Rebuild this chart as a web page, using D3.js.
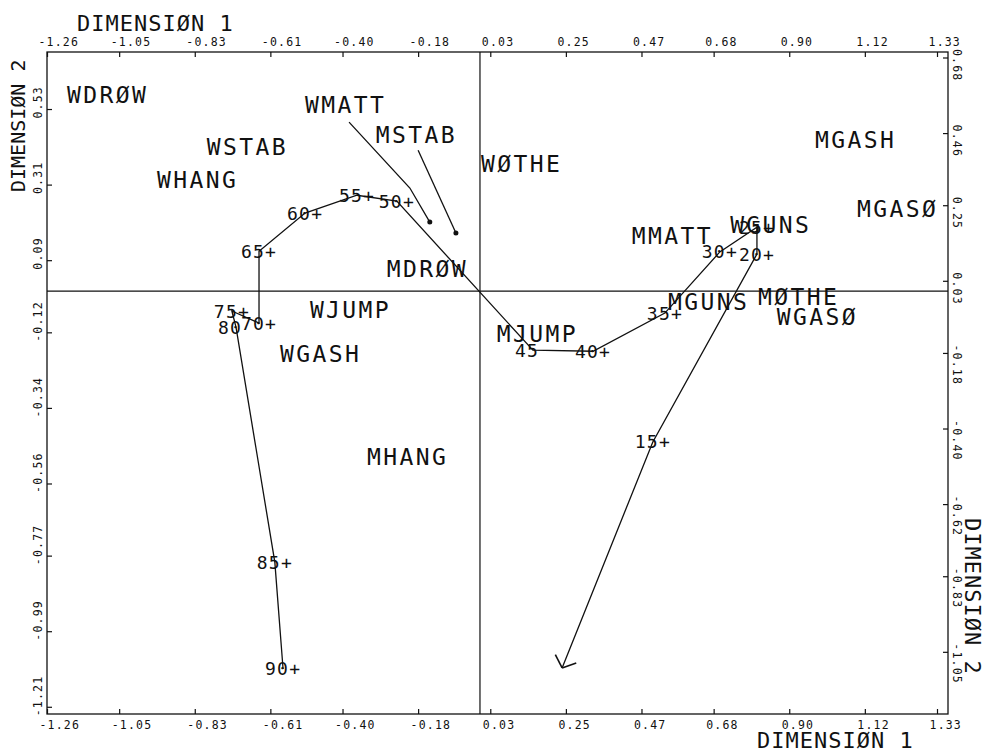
<!DOCTYPE html>
<html>
<head>
<meta charset="utf-8">
<script src="https://cdn.jsdelivr.net/npm/d3@7"></script>
<style>
  body { margin: 0; background: white; }
</style>
</head>
<body>
<script>
const FONT = '"DejaVu Sans Mono", monospace'
const INK = '#111'

// tick labels as printed on the plot
const X_TICKS = ['-1.26', '-1.05', '-0.83', '-0.61', '-0.40', '-0.18', '0.03', '0.25', '0.47', '0.68', '0.90', '1.12', '1.33']
const Y_TICKS_LEFT = ['-1.21', '-0.99', '-0.77', '-0.56', '-0.34', '-0.12', '0.09', '0.31', '0.53']
const Y_TICKS_RIGHT = ['-1.05', '-0.83', '-0.62', '-0.40', '-0.18', '0.03', '0.25', '0.46', '0.68']

// category points (label placed at the point)
const CATS = ['WDRØW', 'WMATT', 'MSTAB', 'WSTAB', 'WHANG', 'WØTHE', 'MGASH', 'MGASØ', 'MMATT',
  'WGUNS', 'MGUNS', 'MØTHE', 'WGASØ', 'MJUMP', 'MDRØW', 'WJUMP', 'WGASH', 'MHANG']
const CAT_X = [-1.202, -0.509, -0.303, -0.795, -0.940, 0.003, 0.975, 1.097, 0.442,
  0.728, 0.547, 0.809, 0.864, 0.049, -0.271, -0.495, -0.582, -0.329]
const CAT_Y = [0.547, 0.518, 0.431, 0.396, 0.300, 0.346, 0.416, 0.215, 0.137,
  0.169, -0.055, -0.041, -0.099, -0.148, 0.041, -0.079, -0.207, -0.506]

// age trajectory, last point is the arrow tip
const AGES = ['90+', '85+', '80', '75+', '70+', '65+', '60+', '55+', '50+', '45', '40+', '35+', '30+', '25+', '20+', '15+', '']
const AGE_X = [-0.573, -0.597, -0.710, -0.722, -0.643, -0.643, -0.509, -0.358, -0.242, 0.154, 0.329, 0.538, 0.698, 0.806, 0.806, 0.503, 0.239]
const AGE_Y = [-1.100, -0.789, -0.105, -0.058, -0.093, 0.116, 0.227, 0.279, 0.262, -0.172, -0.175, -0.064, 0.114, 0.186, 0.108, -0.439, -1.097]

// leader lines from two labels to their points
const WMATT_X = [-0.381, -0.204, -0.146]
const WMATT_Y = [0.492, 0.300, 0.201]
const MSTAB_X = [-0.180, -0.070]
const MSTAB_Y = [0.410, 0.169]

const width = 987, height = 754
const mLeft = 47, mRight = 948, mTop = 52, mBottom = 714

const svg = d3.select('body').append('svg')
  .attr('width', width).attr('height', height)
  .style('font-family', FONT)

const x = d3.scaleLinear().domain([-1.26, 1.362]).range([mLeft, mRight])
const y = d3.scaleLinear().domain([-1.231, 0.696]).range([mBottom, mTop])

//Frame
svg.append('rect')
  .attr('x', mLeft).attr('y', mTop).attr('width', mRight - mLeft).attr('height', mBottom - mTop)
  .attr('fill', 'none').attr('stroke', INK).attr('stroke-width', 1.3)

//Axes through the origin
svg.append('line')
  .attr('x1', x(0)).attr('x2', x(0)).attr('y1', mTop).attr('y2', mBottom)
  .attr('stroke', INK).attr('stroke-width', 1.2)
svg.append('line')
  .attr('x1', mLeft).attr('x2', mRight).attr('y1', y(0)).attr('y2', y(0))
  .attr('stroke', INK).attr('stroke-width', 1.2)

function styleAxis(g) {
  g.select('.domain').remove()
  g.selectAll('.tick line').attr('stroke', INK).attr('stroke-width', 1.2)
  g.selectAll('.tick text')
    .attr('fill', INK).attr('font-family', FONT).attr('font-size', 11.5)
    .attr('letter-spacing', 1.2).attr('text-anchor', 'start').attr('dy', 0)
}

const xVals = X_TICKS.map(Number)
svg.append('g').attr('transform', `translate(0,${mTop})`)
  .call(d3.axisTop(x).tickValues(xVals).tickFormat((d, i) => X_TICKS[i]).tickSize(-5))
  .call(styleAxis)
  .selectAll('.tick text').attr('x', -9).attr('y', -6)
svg.append('g').attr('transform', `translate(0,${mBottom})`)
  .call(d3.axisBottom(x).tickValues(xVals).tickFormat((d, i) => X_TICKS[i]).tickSize(-5))
  .call(styleAxis)
  .selectAll('.tick text').attr('x', -8).attr('y', 15)
svg.append('g').attr('transform', `translate(${mLeft},0)`)
  .call(d3.axisLeft(y).tickValues(Y_TICKS_LEFT.map(Number)).tickFormat((d, i) => Y_TICKS_LEFT[i]).tickSize(-5))
  .call(styleAxis)
  .selectAll('.tick text').attr('x', 0).attr('y', 0).attr('transform', 'translate(-5,9) rotate(-90)')
svg.append('g').attr('transform', `translate(${mRight},0)`)
  .call(d3.axisRight(y).tickValues(Y_TICKS_RIGHT.map(Number)).tickFormat((d, i) => Y_TICKS_RIGHT[i]).tickSize(-5))
  .call(styleAxis)
  .selectAll('.tick text').attr('x', 0).attr('y', 0).attr('transform', 'translate(5,-9) rotate(90)')

//Axis titles
const title = (t) => svg.append('text').text(t)
  .attr('font-size', 22).attr('letter-spacing', 1).attr('fill', INK)
title('DIMENSIØN 1').attr('x', 77).attr('y', 31)
title('DIMENSIØN 1').attr('x', 757).attr('y', 748)
title('DIMENSIØN 2').attr('transform', 'translate(25,192) rotate(-90)').attr('font-size', 20).attr('letter-spacing', 0)
title('DIMENSIØN 2').attr('transform', 'translate(965,518) rotate(90)')

//Category labels
svg.append('g').selectAll('text').data(CATS).join('text')
  .text(d => d)
  .attr('x', (d, i) => x(CAT_X[i])).attr('y', (d, i) => y(CAT_Y[i]))
  .attr('font-size', 23).attr('letter-spacing', 2.4).attr('fill', INK)

//Leader lines with end dots
const line = d3.line().x(d => x(d[0])).y(d => y(d[1]))
const leaders = [d3.zip(WMATT_X, WMATT_Y), d3.zip(MSTAB_X, MSTAB_Y)]
svg.append('g').selectAll('path').data(leaders).join('path')
  .attr('d', line).attr('fill', 'none').attr('stroke', INK).attr('stroke-width', 1.3)
svg.append('g').selectAll('circle').data(leaders).join('circle')
  .attr('cx', d => x(d[d.length - 1][0])).attr('cy', d => y(d[d.length - 1][1]))
  .attr('r', 2.5).attr('fill', INK)

//Age trajectory
const agePts = d3.zip(AGE_X, AGE_Y)
svg.append('path').datum(agePts)
  .attr('d', line).attr('fill', 'none').attr('stroke', INK).attr('stroke-width', 1.3)

// arrow head at the last point
const n = agePts.length
const tx = x(AGE_X[n - 1]), ty = y(AGE_Y[n - 1])
const ang = Math.atan2(y(AGE_Y[n - 2]) - ty, x(AGE_X[n - 2]) - tx)
;[-0.85, 0.85].forEach(a => {
  svg.append('line')
    .attr('x1', tx).attr('y1', ty)
    .attr('x2', tx + 15 * Math.cos(ang + a)).attr('y2', ty + 15 * Math.sin(ang + a))
    .attr('stroke', INK).attr('stroke-width', 1.6)
})

svg.append('g').selectAll('text').data(AGES).join('text')
  .text(d => d)
  .attr('x', (d, i) => x(AGE_X[i]) - 18).attr('y', (d, i) => y(AGE_Y[i]) + 6.5)
  .attr('font-size', 18).attr('letter-spacing', 1.2).attr('fill', INK)

d3.select('svg').style('cursor', 'default')
</script>
</body>
</html>
